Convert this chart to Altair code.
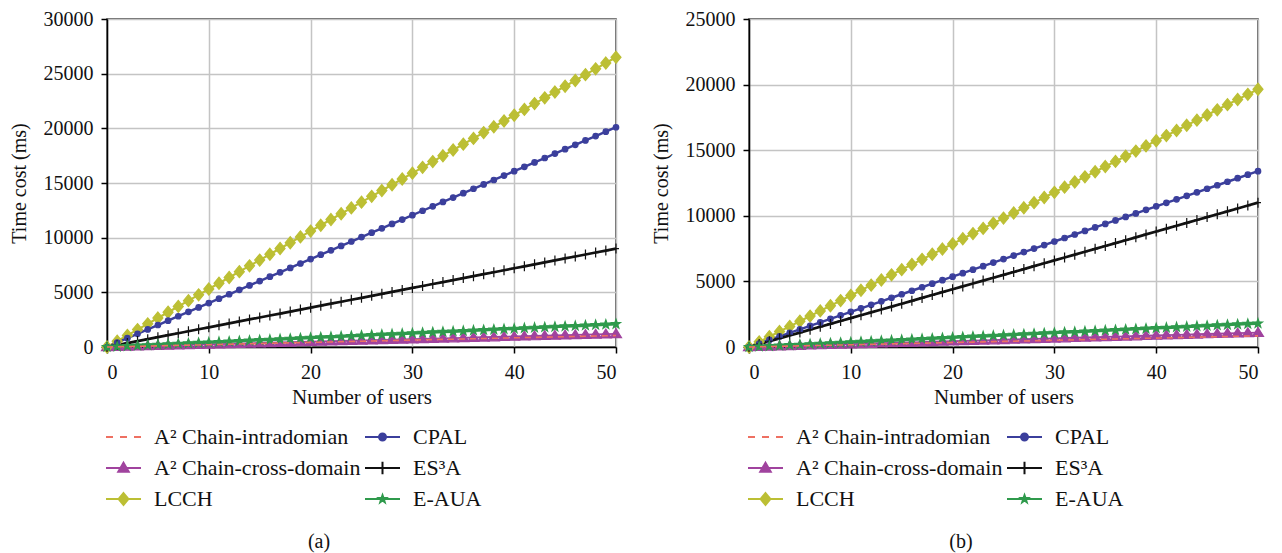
import altair as alt
import pandas as pd

users = list(range(51))

series_names = ["A² Chain-intradomian", "A² Chain-cross-domain", "LCCH", "CPAL", "ES³A", "E-AUA"]
colors = ["#ee7062", "#a0439e", "#bcbf34", "#3b3f9c", "#111111", "#2f9a4c"]

# ---- panel (a) values ----
a_intra = [0,21,42,63,84,105,126,147,168,189,210,231,252,273,294,315,336,357,378,399,420,441,462,483,504,525,546,567,588,609,630,651,672,693,714,735,756,777,798,819,840,861,882,903,924,945,966,987,1008,1029,1050]
a_cross = [0,24,48,72,96,120,144,168,192,216,240,264,288,312,336,360,384,408,432,456,480,504,528,552,576,600,624,648,672,696,720,744,768,792,816,840,864,888,912,936,960,984,1008,1032,1056,1080,1104,1128,1152,1176,1200]
a_lcch = [0,530,1060,1590,2120,2650,3180,3710,4240,4770,5300,5830,6360,6890,7420,7950,8480,9010,9540,10070,10600,11130,11660,12190,12720,13250,13780,14310,14840,15370,15900,16430,16960,17490,18020,18550,19080,19610,20140,20670,21200,21730,22260,22790,23320,23850,24380,24910,25440,25970,26500]
a_cpal = [0,402,804,1206,1608,2010,2412,2814,3216,3618,4020,4422,4824,5226,5628,6030,6432,6834,7236,7638,8040,8442,8844,9246,9648,10050,10452,10854,11256,11658,12060,12462,12864,13266,13668,14070,14472,14874,15276,15678,16080,16482,16884,17286,17688,18090,18492,18894,19296,19698,20100]
a_es3a = [0,180,360,540,720,900,1080,1260,1440,1620,1800,1980,2160,2340,2520,2700,2880,3060,3240,3420,3600,3780,3960,4140,4320,4500,4680,4860,5040,5220,5400,5580,5760,5940,6120,6300,6480,6660,6840,7020,7200,7380,7560,7740,7920,8100,8280,8460,8640,8820,9000]
a_eaua = [0,42,84,126,168,210,252,294,336,378,420,462,504,546,588,630,672,714,756,798,840,882,924,966,1008,1050,1092,1134,1176,1218,1260,1302,1344,1386,1428,1470,1512,1554,1596,1638,1680,1722,1764,1806,1848,1890,1932,1974,2016,2058,2100]

# ---- panel (b) values ----
b_intra = [0,17,34,51,68,85,102,119,136,153,170,187,204,221,238,255,272,289,306,323,340,357,374,391,408,425,442,459,476,493,510,527,544,561,578,595,612,629,646,663,680,697,714,731,748,765,782,799,816,833,850]
b_cross = [0,22,44,66,88,110,132,154,176,198,220,242,264,286,308,330,352,374,396,418,440,462,484,506,528,550,572,594,616,638,660,682,704,726,748,770,792,814,836,858,880,902,924,946,968,990,1012,1034,1056,1078,1100]
b_lcch = [0,393,786,1179,1572,1965,2358,2751,3144,3537,3930,4323,4716,5109,5502,5895,6288,6681,7074,7467,7860,8253,8646,9039,9432,9825,10218,10611,11004,11397,11790,12183,12576,12969,13362,13755,14148,14541,14934,15327,15720,16113,16506,16899,17292,17685,18078,18471,18864,19257,19650]
b_cpal = [0,268,536,804,1072,1340,1608,1876,2144,2412,2680,2948,3216,3484,3752,4020,4288,4556,4824,5092,5360,5628,5896,6164,6432,6700,6968,7236,7504,7772,8040,8308,8576,8844,9112,9380,9648,9916,10184,10452,10720,10988,11256,11524,11792,12060,12328,12596,12864,13132,13400]
b_es3a = [0,220,440,660,880,1100,1320,1540,1760,1980,2200,2420,2640,2860,3080,3300,3520,3740,3960,4180,4400,4620,4840,5060,5280,5500,5720,5940,6160,6380,6600,6820,7040,7260,7480,7700,7920,8140,8360,8580,8800,9020,9240,9460,9680,9900,10120,10340,10560,10780,11000]
b_eaua = [0,36,72,108,144,180,216,252,288,324,360,396,432,468,504,540,576,612,648,684,720,756,792,828,864,900,936,972,1008,1044,1080,1116,1152,1188,1224,1260,1296,1332,1368,1404,1440,1476,1512,1548,1584,1620,1656,1692,1728,1764,1800]

x_ticks = [0, 10, 20, 30, 40, 50]

FONT = "Liberation Serif"

# marker shapes in the plot
star = "M0,-0.95L0.22,-0.31L0.9,-0.29L0.36,0.12L0.56,0.77L0,0.38L-0.56,0.77L-0.36,0.12L-0.9,-0.29L-0.22,-0.31Z"
marker_paths = [
    "M0,0",
    "M0,-1L1.1,0.75L-1.1,0.75Z",
    "M0,-1.2L1,0L0,1.2L-1,0Z",
    "M0.55,0A0.55,0.55 0 1,1 -0.55,0A0.55,0.55 0 1,1 0.55,0Z",
    "M0,-1L0,1M-0.6,0L0.6,0",
    star,
]
line_widths = [1.6, 3, 2, 2, 2, 2]

# legend symbols (line + marker)
lstar = "M-2.5,0L2.5,0M0,-0.55L0.13,-0.18L0.52,-0.17L0.21,0.07L0.32,0.45L0,0.22L-0.32,0.45L-0.21,0.07L-0.52,-0.17L-0.13,-0.18Z"
legend_paths = [
    "M-2.5,0L-1.5,0M-0.5,0L0.5,0M1.5,0L2.5,0",
    "M-2.5,0L2.5,0M0,-0.75L0.75,0.55L-0.75,0.55Z",
    "M-2.5,0L2.5,0M0,-0.85L0.7,0L0,0.85L-0.7,0Z",
    "M-2.5,0L2.5,0M0.5,0A0.5,0.5 0 1,1 -0.5,0A0.5,0.5 0 1,1 0.5,0Z",
    "M-2.5,0L2.5,0M0,-0.9L0,0.9",
    lstar,
]


def panel(values, ymax, caption):
    rows = []
    for name, vals in zip(series_names, values):
        for u, v in zip(users, vals):
            rows.append({"users": u, "cost": v, "series": name})
    df = pd.DataFrame(rows)

    x = alt.X("users:Q", scale=alt.Scale(domain=[0, 50], nice=False),
              axis=alt.Axis(values=x_ticks, title="Number of users", titlePadding=4, labelPadding=9))
    y = alt.Y("cost:Q", scale=alt.Scale(domain=[0, ymax], nice=False),
              axis=alt.Axis(values=list(range(0, ymax + 1, 5000)), format="d",
                            title="Time cost (ms)", titlePadding=14, labelPadding=8))

    col = alt.Color("series:N", scale=alt.Scale(domain=series_names, range=colors), legend=None)

    lines = alt.Chart(df).transform_filter(
        alt.datum.series != series_names[0]
    ).mark_line().encode(
        x=x, y=y, color=col, order="users:Q",
        strokeWidth=alt.StrokeWidth("series:N", scale=alt.Scale(domain=series_names, range=line_widths), legend=None),
    )

    pts = alt.Chart(df).transform_filter(
        alt.datum.series != series_names[0]
    ).mark_point(filled=True, opacity=1, strokeWidth=1.2).encode(
        x=x, y=y,
        shape=alt.Shape("series:N", scale=alt.Scale(domain=series_names, range=marker_paths), legend=None),
        fill=alt.Fill("series:N", scale=alt.Scale(domain=series_names, range=colors), legend=None),
        stroke=alt.Stroke("series:N", scale=alt.Scale(domain=series_names, range=colors), legend=None),
        size=alt.value(100),
    )

    intra = alt.Chart(df).transform_filter(
        alt.datum.series == series_names[0]
    ).mark_line(strokeWidth=1.6, strokeDash=[6, 5]).encode(x=x, y=y, color=col, order="users:Q")

    leg_def = alt.Legend(
        title=None, orient="none", legendX=5.5, legendY=407, columns=2,
        symbolSize=196, symbolStrokeWidth=2, labelOffset=19.5,
        labelFont=FONT, labelFontSize=22, labelColor="#111", labelLimit=0,
        rowPadding=9, columnPadding=0, padding=0,
    )
    leg = alt.Chart(df).transform_calculate(lg="datum.series").transform_filter("false").mark_point(
        filled=True, opacity=1, strokeWidth=2
    ).encode(
        x=x, y=y,
        shape=alt.Shape("lg:N", scale=alt.Scale(domain=series_names, range=legend_paths), legend=leg_def),
        fill=alt.Fill("lg:N", scale=alt.Scale(domain=series_names, range=colors), legend=leg_def),
        stroke=alt.Stroke("lg:N", scale=alt.Scale(domain=series_names, range=colors), legend=leg_def),
    )
    cap = alt.Chart(pd.DataFrame({"t": [caption]})).mark_text(
        font=FONT, fontSize=20, color="#111"
    ).encode(x=alt.value(212), y=alt.value(523), text="t:N")

    return alt.layer(lines, pts, intra, leg, cap).resolve_scale(
        shape="independent", fill="independent", stroke="independent"
    ).properties(width=509, height=328)


chart_a = panel([a_intra, a_cross, a_lcch, a_cpal, a_es3a, a_eaua], 30000, "(a)")
chart_b = panel([b_intra, b_cross, b_lcch, b_cpal, b_es3a, b_eaua], 25000, "(b)")

chart = alt.hconcat(chart_a, chart_b, spacing=25).properties(
    padding={"left": 0, "top": 0, "right": 0, "bottom": 0}
).configure(
    font=FONT
).configure_view(
    stroke="#333333", strokeWidth=1.5
).configure_axis(
    domainColor="#000000", domainWidth=1.5,
    tickColor="#000000", tickWidth=1.5, tickSize=6,
    gridColor="#c4c4c4", gridWidth=1.5,
    labelFont=FONT, labelFontSize=20, labelColor="#111",
    titleFont=FONT, titleFontWeight="normal", titleColor="#111",
).configure_axisX(
    titleFontSize=21
).configure_axisY(
    titleFontSize=20
)

chart.save("out.html", embed_options={"renderer": "svg", "actions": False})
